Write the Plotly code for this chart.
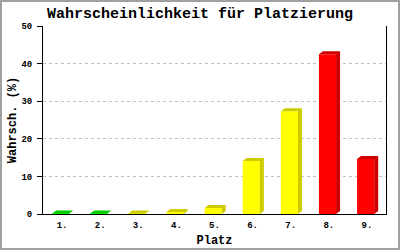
import plotly.graph_objects as go

places = ["1.", "2.", "3.", "4.", "5.", "6.", "7.", "8.", "9."]
values = [0.1, 0.1, 0.1, 0.5, 1.6, 14.1, 27.3, 42.5, 14.6]
front_colors = ["#00ff00", "#00ff00", "#ffff00", "#ffff00", "#ffff00", "#ffff00", "#ffff00", "#ff0000", "#ff0000"]
dark_colors = ["#00cc00", "#00cc00", "#cccc00", "#cccc00", "#cccc00", "#cccc00", "#cccc00", "#cc0000", "#cc0000"]

title_text = "Wahrscheinlichkeit für Platzierung"
x_title = "Platz"
y_title = "Wahrsch. (%)"

FONT = "Liberation Mono, DejaVu Sans Mono, monospace"
W_BAR = 0.45
OFF = -0.26
DX = 0.105
DY = 0.8

xs = list(range(len(places)))
fig = go.Figure()
fig.add_trace(go.Bar(x=xs, y=values, width=W_BAR, offset=OFF,
                     marker=dict(color=front_colors, line=dict(width=0)),
                     hoverinfo="skip"))

# 3D side and top faces, grouped by colour
groups = {}
for i, v in enumerate(values):
    l = i + OFF
    r = l + W_BAR
    px = [r, r + DX, r + DX, r, r, None, l, l + DX, r + DX, r, l, None]
    py = [0, DY, v + DY, v, 0, None, v, v + DY, v + DY, v, v, None]
    g = groups.setdefault(dark_colors[i], ([], []))
    g[0].extend(px)
    g[1].extend(py)
for col, (gx, gy) in groups.items():
    fig.add_trace(go.Scatter(x=gx, y=gy, mode="lines", fill="toself",
                             fillcolor=col, line=dict(width=0, color=col),
                             hoverinfo="skip"))

L, R, T, B = 43, 14, 26, 36
PW, PH = 400 - L - R, 250 - T - B
def px2x(p):
    return (p - L) / PW
def py2y(p):
    return (250 - B - p) / PH

tickfont = dict(family=FONT, size=9, weight="bold")

fig.update_layout(
    width=400, height=250,
    margin=dict(l=L, r=R, t=T, b=B, autoexpand=False),
    paper_bgcolor="white", plot_bgcolor="white",
    showlegend=False,
    font=dict(family=FONT, color="black"),
    title=dict(text="<b>" + title_text + "</b>", x=0.5, xanchor="center",
               y=1 - 13 / 250, yanchor="middle",
               font=dict(family=FONT, size=15, color="black")),
    xaxis=dict(range=[-0.5, 8.5], tickvals=xs, ticktext=places,
               showline=True, linecolor="black", linewidth=1,
               ticks="", showgrid=False, zeroline=False, automargin=False,
               ticklabelstandoff=2,
               tickfont=tickfont,
               title=dict(text="<b>" + x_title + "</b>", standoff=5,
                          font=dict(family=FONT, size=12))),
    yaxis=dict(range=[0, 50], tickvals=[0, 10, 20, 30, 40, 50],
               showline=True, linecolor="black", linewidth=1, mirror=True,
               ticks="outside", ticklen=5, tickcolor="black",
               ticklabelstandoff=3, automargin=False,
               showgrid=True, gridcolor="#c0c0c0", griddash="dot", gridwidth=1,
               zeroline=False,
               tickfont=tickfont,
               title=dict(text="<b>" + y_title + "</b>", standoff=2,
                          font=dict(family=FONT, size=12))),
    shapes=[dict(type="rect", xref="paper", yref="paper",
                 x0=px2x(1), x1=px2x(399), y0=py2y(249), y1=py2y(1),
                 line=dict(color="#a0a0a0", width=2), layer="above")],
)

fig.write_html("out.html")
